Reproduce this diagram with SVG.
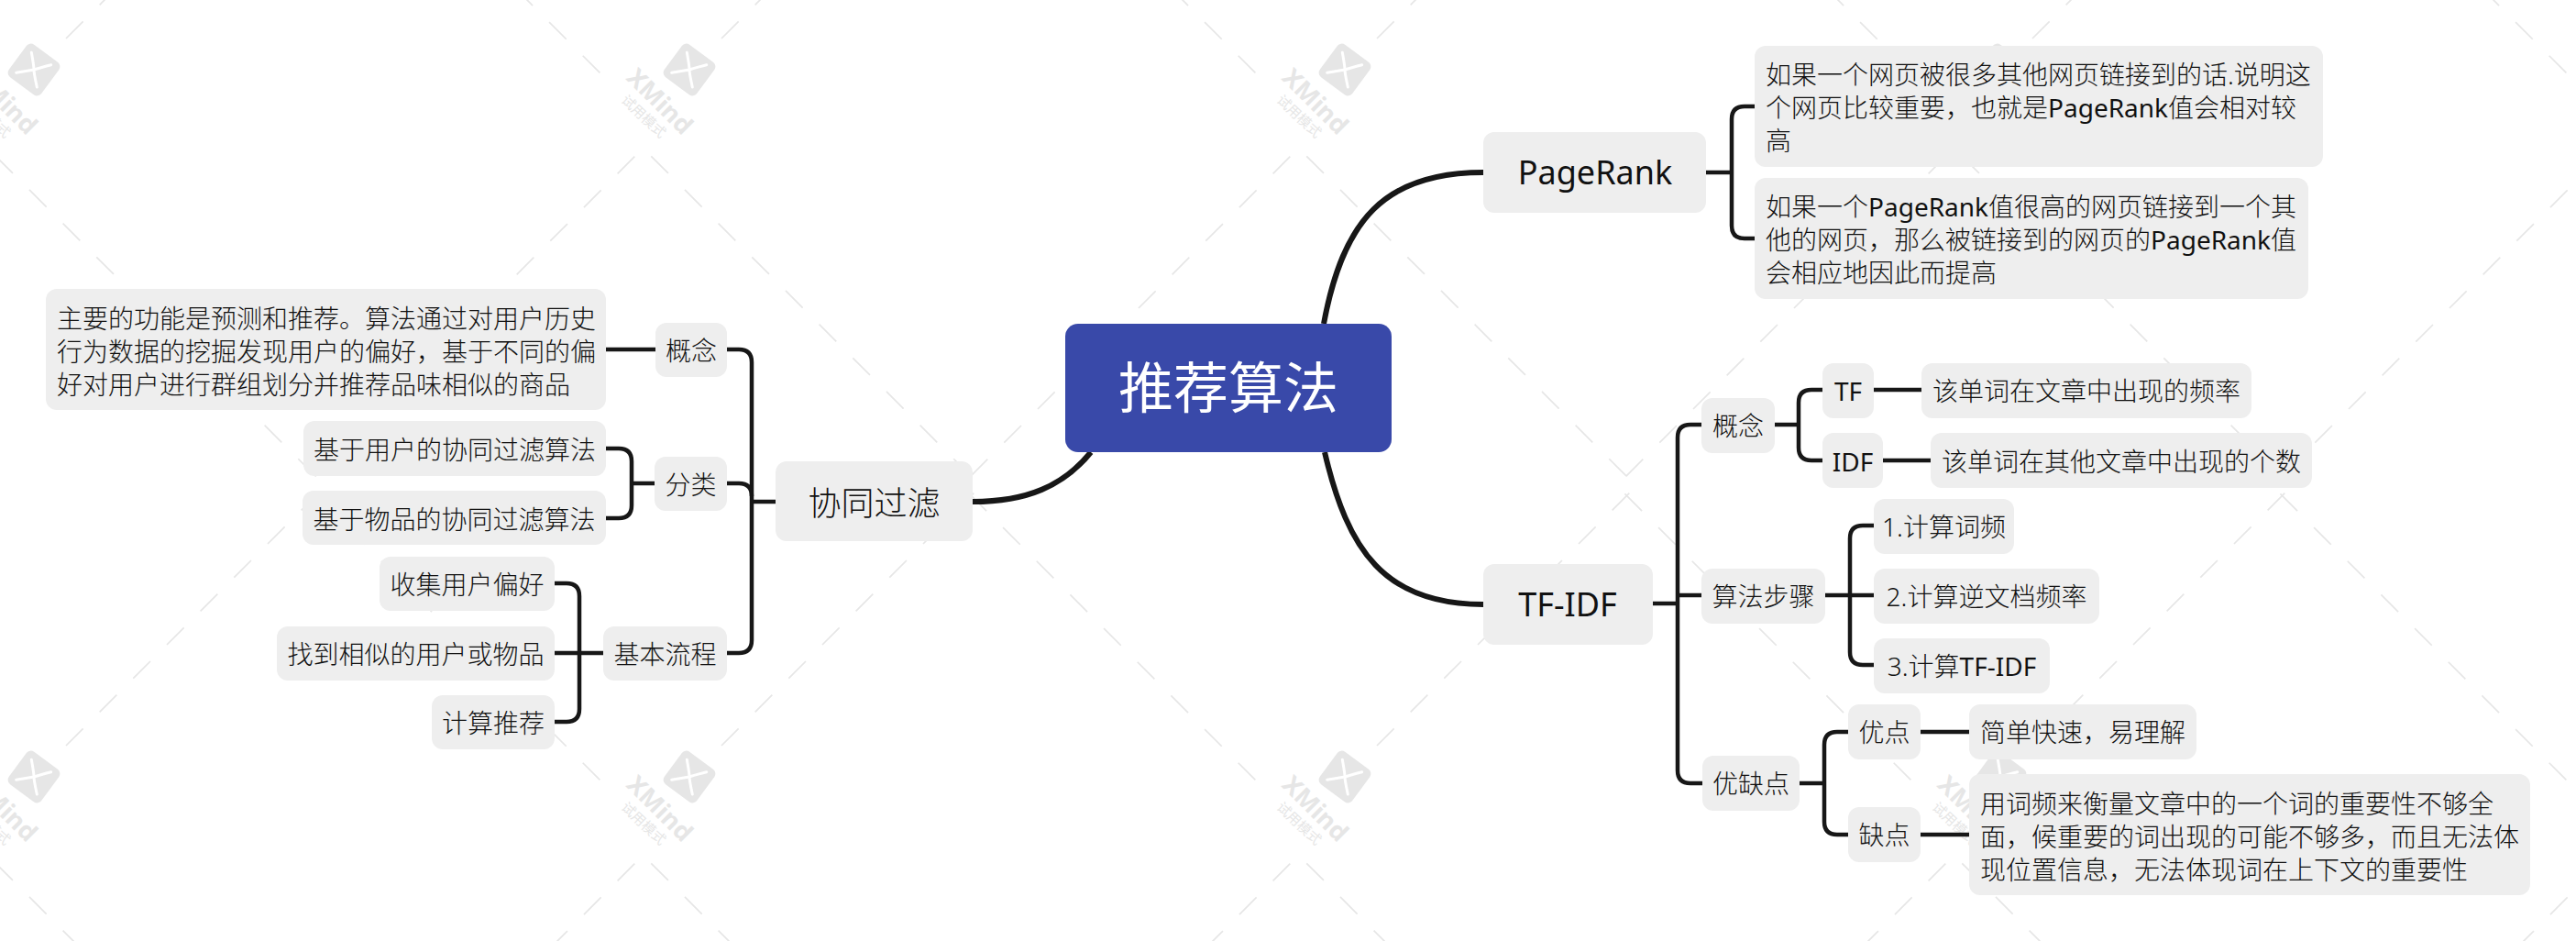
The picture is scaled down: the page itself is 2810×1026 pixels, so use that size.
<svg xmlns="http://www.w3.org/2000/svg" xmlns:xlink="http://www.w3.org/1999/xlink" width="2810" height="1026" viewBox="0 0 2810 1026">
<style>
text{font-family:"Noto Sans","Noto Sans CJK SC",sans-serif;fill:#111111}
.n{fill:#eeeeee}
.s{font-size:28px;font-weight:300;transform:translate(0,1px)}
.m{font-size:36px;font-weight:300;transform:translate(0,1px)}
.a{font-weight:400}
.c{text-anchor:middle}
.root{font-size:60px;font-weight:400;fill:#ffffff;text-anchor:middle;transform:translate(0,1px)}
.l{fill:none;stroke:#171717;stroke-width:4.5}
.t{fill:none;stroke:#171717;stroke-width:6}
.d{fill:none;stroke:#e6e6e6;stroke-width:1.7;stroke-dasharray:26.4 25.45}
.wx{fill:none;stroke:#ffffff;stroke-width:3;stroke-linecap:round}
.w1{font-size:27px;font-weight:700;fill:#e6e6e6}
.w2{font-size:15px;fill:#e6e6e6;text-anchor:middle}
</style>
<defs>
<g id="wm">
<path class="d" d="M35 -34L310.4 -309.4"/>
<path class="d" d="M-41.7 94.3L307 443"/>
<path class="d" d="M-59.7 94.7L-408.3 443.3"/>
<path class="d" d="M-97.6 3.4L-409.9 -308.9"/>
<rect x="-22" y="-22" width="44" height="44" rx="6" fill="#e6e6e6" transform="rotate(36.5)"/>
<path class="wx" d="M-2.7 -18.7Q0 -4 0 0Q0 4 3.3 19"/>
<path class="wx" d="M-19.3 3.3Q-6 1 0 0Q6 -2 18.7 -5.3"/>
<text class="w1" transform="translate(-70,10) rotate(45)" textLength="88" lengthAdjust="spacingAndGlyphs">XMind</text>
<text class="w2" transform="translate(-50,51) rotate(43)" y="5">试用模式</text>
</g>
</defs>
<rect width="2810" height="1026" fill="#ffffff"/>
<g id="watermark">
<use xlink:href="#wm" href="#wm" x="37" y="76"/>
<use xlink:href="#wm" href="#wm" x="752" y="76"/>
<use xlink:href="#wm" href="#wm" x="1467" y="76"/>
<use xlink:href="#wm" href="#wm" x="2182" y="76"/>
<use xlink:href="#wm" href="#wm" x="2897" y="76"/>
<use xlink:href="#wm" href="#wm" x="37" y="847"/>
<use xlink:href="#wm" href="#wm" x="752" y="847"/>
<use xlink:href="#wm" href="#wm" x="1467" y="847"/>
<use xlink:href="#wm" href="#wm" x="2182" y="847"/>
<use xlink:href="#wm" href="#wm" x="2897" y="847"/>
</g>
<g id="connectors">
<path class="t" d="M1444 353C1465 240 1510 188 1618 188"/>
<path class="t" d="M1445 493C1470 600 1510 659 1618 659"/>
<path class="t" d="M1190 493C1160 530 1120 547 1061 547"/>
<path class="l" d="M846 547H820"/>
<path class="l" d="M793 381H806Q820 381 820 395V698Q820 712 806 712H793"/>
<path class="l" d="M793 527H806Q820 527 820 541"/>
<path class="l" d="M715 381H661"/>
<path class="l" d="M714 527H689"/>
<path class="l" d="M661 489H675Q689 489 689 503V551Q689 565 675 565H661"/>
<path class="l" d="M658 712H605"/>
<path class="l" d="M605 636H618Q632 636 632 650V773Q632 787 618 787H605"/>
<path class="l" d="M1861 188H1889"/>
<path class="l" d="M1914 116H1903Q1889 116 1889 130V246Q1889 260 1903 260H1914"/>
<path class="l" d="M1803 658H1830"/>
<path class="l" d="M1856 463H1844Q1830 463 1830 477V840Q1830 854 1844 854H1857"/>
<path class="l" d="M1830 649H1856"/>
<path class="l" d="M1936 463H1962"/>
<path class="l" d="M1988 425H1976Q1962 425 1962 439V488Q1962 502 1976 502H1988"/>
<path class="l" d="M2044 425H2096"/>
<path class="l" d="M2054 502H2106"/>
<path class="l" d="M1991 649H2044"/>
<path class="l" d="M2044 573H2032Q2018 573 2018 587V711Q2018 725 2032 725H2044"/>
<path class="l" d="M1963 854H1990"/>
<path class="l" d="M2016 798H2004Q1990 798 1990 812V896Q1990 910 2004 910H2016"/>
<path class="l" d="M2095 798H2148"/>
<path class="l" d="M2095 910H2148"/>
</g>
<g id="root"><rect x="1162" y="353" width="356" height="140" rx="14" fill="#3949a9"/><text class="root" x="1340" y="444">推荐算法</text></g>
<g id="n-pagerank"><rect class="n" x="1618" y="144" width="243" height="88" rx="12"/><text class="m c a" x="1740" y="200">PageRank</text></g>
<g id="n-tfidf"><rect class="n" x="1618" y="615" width="185" height="88" rx="12"/><text class="m c a" x="1710" y="671">TF-IDF</text></g>
<g id="n-cf"><rect class="n" x="846" y="503" width="215" height="87" rx="12"/><text class="m c" x="953.500" y="561">协同过滤</text></g>
<g id="n-pr1"><rect class="n" x="1914" y="50" width="620" height="132" rx="12"/><text class="s" x="1926" y="91">如果一个网页被很多其他网页链接到的话.说明这</text><text class="s" x="1926" y="127">个网页比较重要，也就是<tspan class="a">PageRank</tspan>值会相对较</text><text class="s" x="1926" y="163">高</text></g>
<g id="n-pr2"><rect class="n" x="1914" y="194" width="604" height="132" rx="12"/><text class="s" x="1926" y="235">如果一个<tspan class="a">PageRank</tspan>值很高的网页链接到一个其</text><text class="s" x="1926" y="271">他的网页，那么被链接到的网页的<tspan class="a">PageRank</tspan>值</text><text class="s" x="1926" y="307">会相应地因此而提高</text></g>
<g id="n-cf-concept"><rect class="n" x="715" y="352" width="78" height="59" rx="12"/><text class="s c" x="754" y="392">概念</text></g>
<g id="n-cf-desc"><rect class="n" x="50" y="315" width="611" height="132" rx="12"/><text class="s" x="62" y="357">主要的功能是预测和推荐。算法通过对用户历史</text><text class="s" x="62" y="393">行为数据的挖掘发现用户的偏好，基于不同的偏</text><text class="s" x="62" y="429">好对用户进行群组划分并推荐品味相似的商品</text></g>
<g id="n-cf-class"><rect class="n" x="714" y="498" width="79" height="59" rx="12"/><text class="s c" x="753.500" y="538">分类</text></g>
<g id="n-cf-user"><rect class="n" x="331" y="459" width="330" height="60" rx="12"/><text class="s c" x="496" y="500">基于用户的协同过滤算法</text></g>
<g id="n-cf-item"><rect class="n" x="330" y="535" width="331" height="59" rx="12"/><text class="s c" x="495.500" y="576">基于物品的协同过滤算法</text></g>
<g id="n-cf-flow"><rect class="n" x="658" y="683" width="135" height="59" rx="12"/><text class="s c" x="725.500" y="723">基本流程</text></g>
<g id="n-cf-f1"><rect class="n" x="414" y="607" width="191" height="59" rx="12"/><text class="s c" x="509.500" y="647">收集用户偏好</text></g>
<g id="n-cf-f2"><rect class="n" x="302" y="683" width="303" height="59" rx="12"/><text class="s c" x="453.500" y="723">找到相似的用户或物品</text></g>
<g id="n-cf-f3"><rect class="n" x="471" y="758" width="134" height="59" rx="12"/><text class="s c" x="538" y="798">计算推荐</text></g>
<g id="n-t-concept"><rect class="n" x="1856" y="434" width="80" height="60" rx="12"/><text class="s c" x="1896" y="474">概念</text></g>
<g id="n-t-tf"><rect class="n" x="1988" y="396" width="56" height="60" rx="12"/><text class="s c a" x="2016" y="436">TF</text></g>
<g id="n-t-idf"><rect class="n" x="1988" y="472" width="66" height="60" rx="12"/><text class="s c a" x="2021" y="513">IDF</text></g>
<g id="n-t-tfd"><rect class="n" x="2096" y="396" width="360" height="60" rx="12"/><text class="s c" x="2276" y="436">该单词在文章中出现的频率</text></g>
<g id="n-t-idfd"><rect class="n" x="2106" y="472" width="416" height="60" rx="12"/><text class="s c" x="2314" y="513">该单词在其他文章中出现的个数</text></g>
<g id="n-t-steps"><rect class="n" x="1856" y="620" width="135" height="60" rx="12"/><text class="s c" x="1923.500" y="660">算法步骤</text></g>
<g id="n-t-s1"><rect class="n" x="2044" y="544" width="153" height="60" rx="12"/><text class="s c" x="2120.500" y="584">1.计算词频</text></g>
<g id="n-t-s2"><rect class="n" x="2044" y="620" width="246" height="60" rx="12"/><text class="s c" x="2167" y="660">2.计算逆文档频率</text></g>
<g id="n-t-s3"><rect class="n" x="2044" y="696" width="192" height="60" rx="12"/><text class="s c" x="2140" y="736">3.计算<tspan class="a">TF-IDF</tspan></text></g>
<g id="n-t-pc"><rect class="n" x="1857" y="824" width="106" height="60" rx="12"/><text class="s c" x="1910" y="864">优缺点</text></g>
<g id="n-t-pro"><rect class="n" x="2016" y="768" width="79" height="60" rx="12"/><text class="s c" x="2055.500" y="808">优点</text></g>
<g id="n-t-prod"><rect class="n" x="2148" y="768" width="248" height="60" rx="12"/><text class="s c" x="2272" y="808">简单快速，易理解</text></g>
<g id="n-t-con"><rect class="n" x="2016" y="880" width="79" height="60" rx="12"/><text class="s c" x="2055.500" y="920">缺点</text></g>
<g id="n-t-cond"><rect class="n" x="2148" y="844" width="612" height="132" rx="12"/><text class="s" x="2160" y="886">用词频来衡量文章中的一个词的重要性不够全</text><text class="s" x="2160" y="922">面，候重要的词出现的可能不够多，而且无法体</text><text class="s" x="2160" y="958">现位置信息，无法体现词在上下文的重要性</text></g>
</svg>
